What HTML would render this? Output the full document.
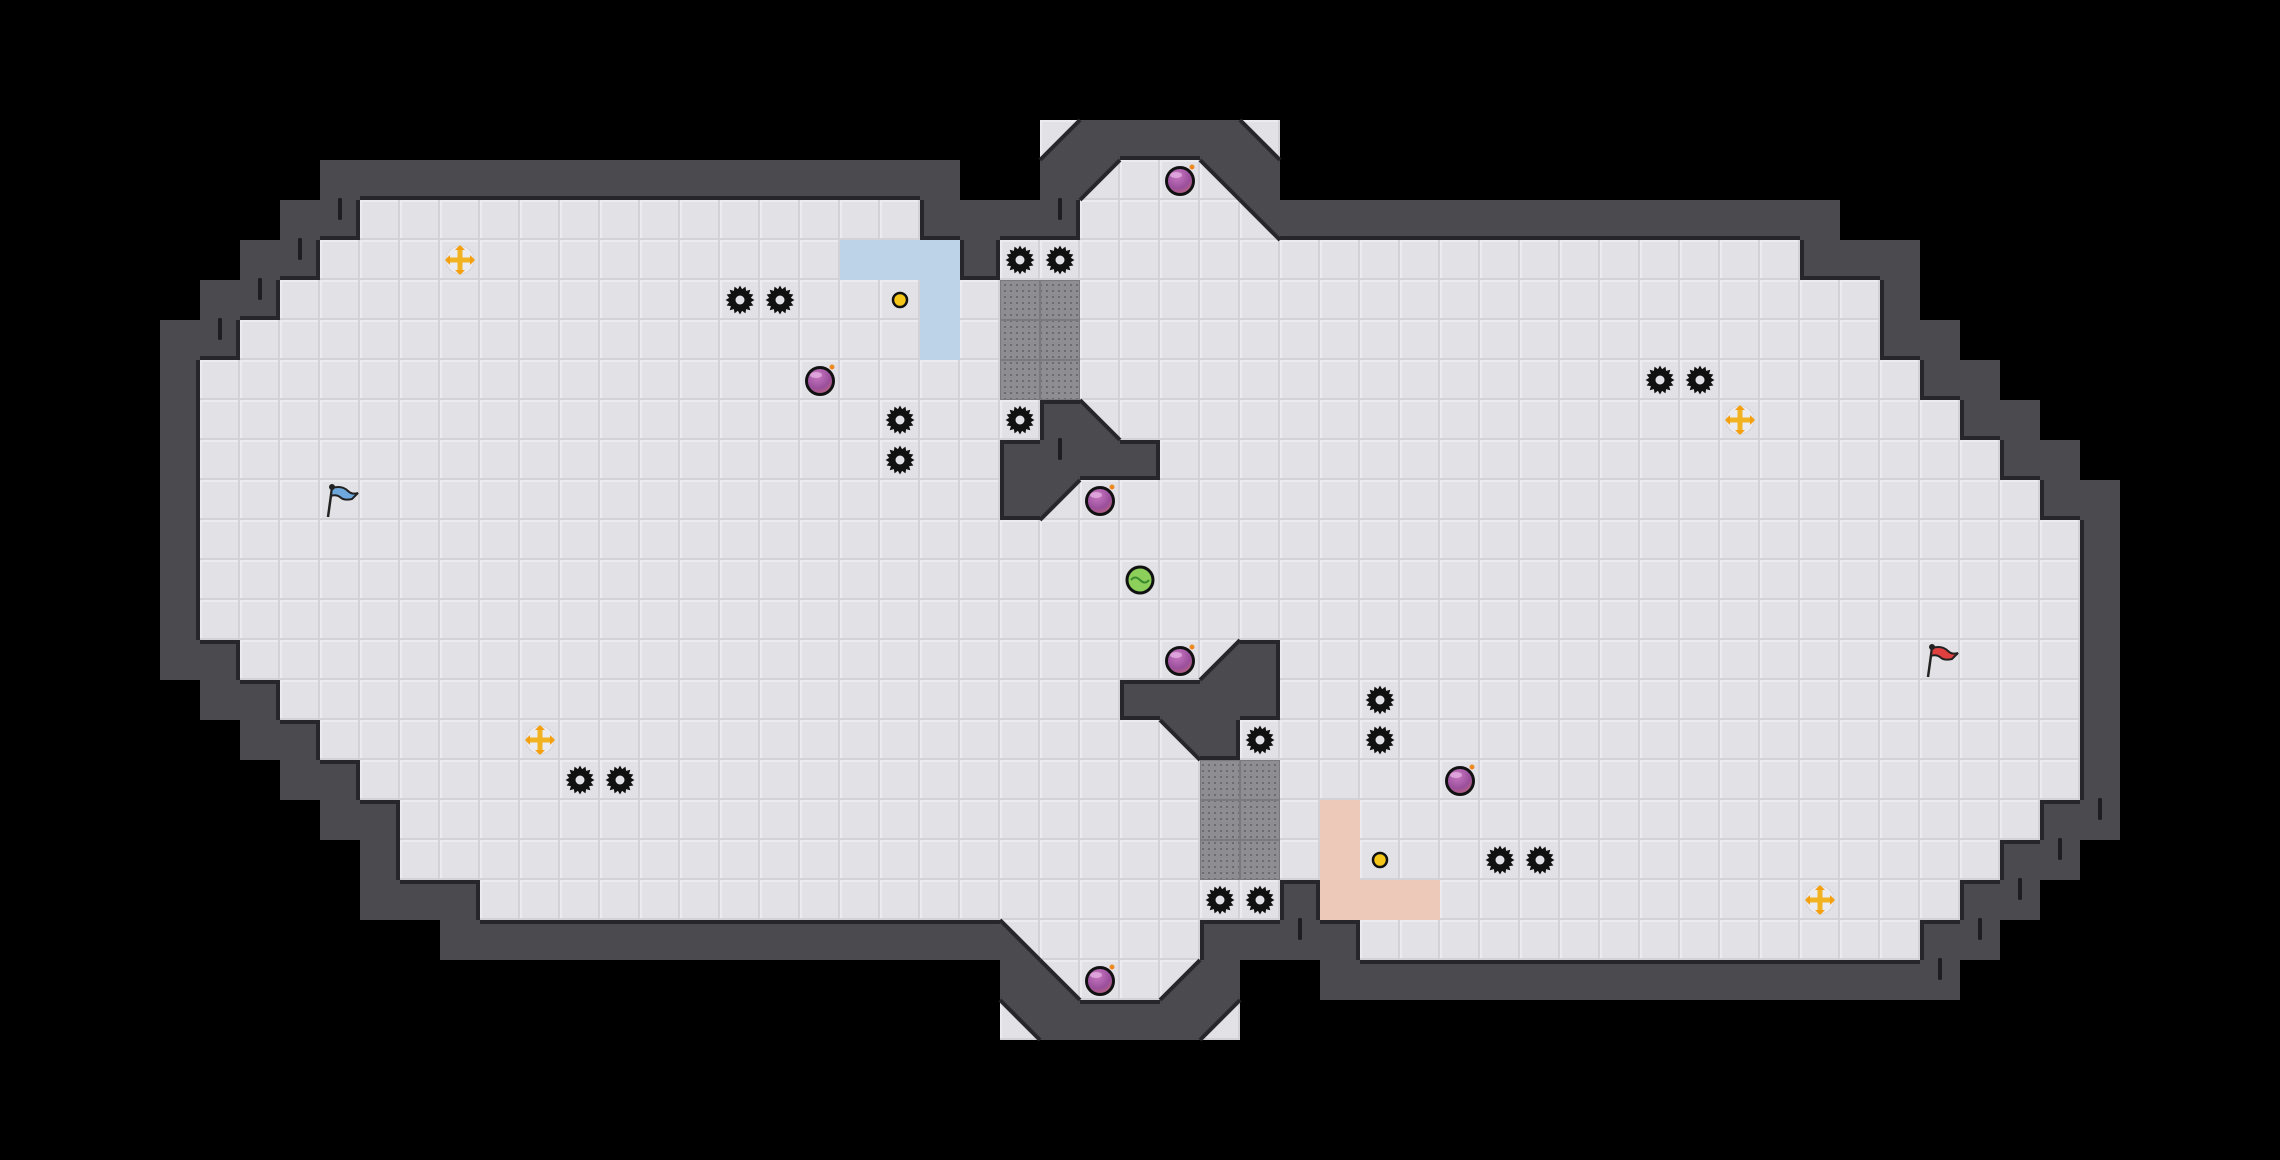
<!DOCTYPE html>
<html><head><meta charset="utf-8"><style>
html,body{margin:0;padding:0;background:#000;width:2280px;height:1160px;overflow:hidden}
svg{display:block}
</style></head><body>
<svg id="s" width="2280" height="1160" viewBox="0 0 2280 1160" xmlns="http://www.w3.org/2000/svg">
<defs>
<pattern id="fl" width="40" height="40" patternUnits="userSpaceOnUse">
<rect width="40" height="40" fill="#e2e2e6"/>
<rect x="0" y="0" width="40" height="2" fill="#ececef"/>
<rect x="0" y="0" width="2" height="40" fill="#ececef"/>
<rect x="38" y="0" width="2" height="40" fill="#d2d2d7"/>
<rect x="0" y="38" width="40" height="2" fill="#d2d2d7"/>
</pattern>
<pattern id="mesh" width="6" height="6" patternUnits="userSpaceOnUse">
<rect width="6" height="6" fill="#8e8e92"/>
<rect x="2" y="2" width="2" height="2" fill="#6c6c70"/>
</pattern>
<radialGradient id="bomb" cx="0.4" cy="0.3" r="0.8">
<stop offset="0" stop-color="#c878c0"/><stop offset="0.6" stop-color="#9a4f9c"/><stop offset="1" stop-color="#c46a70"/>
</radialGradient>
</defs>
<rect width="2280" height="1160" fill="#000"/>
<g id="g"></g>
</svg>
<script>
(function(){
var NS="http://www.w3.org/2000/svg",g=document.getElementById('g'),S=40;
function el(t,a){var e=document.createElementNS(NS,t);for(var k in a)e.setAttribute(k,a[k]);g.appendChild(e);return e;}
var floor={};
function add(r,a,b){for(var c=a;c<=b;c++)floor[c+','+r]=1;}
function del(r,a,b){for(var c=a;c<=b;c++)delete floor[c+','+r];}
add(4,28,29);add(5,9,22);add(5,27,30);add(6,8,23);add(6,25,44);
add(7,7,46);add(8,6,46);add(9,5,47);add(10,5,48);add(11,5,49);add(12,5,50);
add(13,5,51);add(14,5,51);add(15,5,51);add(16,6,51);add(17,7,51);add(18,8,51);
add(19,9,51);add(20,10,50);add(21,10,49);add(22,12,31);add(22,33,48);
add(23,26,29);add(23,34,47);add(24,27,28);
del(10,26,27);del(11,25,28);del(12,25,26);del(16,30,31);del(17,28,31);del(18,29,30);
var tris=[[26,3,'br'],[31,3,'bl'],[27,4,'tl'],[30,4,'tr'],[31,5,'tr'],[27,10,'bl'],[26,12,'tl'],
[30,16,'br'],[29,18,'tr'],[25,23,'bl'],[26,24,'bl'],[29,24,'br'],[25,25,'tr'],[30,25,'tl']];
var tri={};tris.forEach(function(t){tri[t[0]+','+t[1]]=t[2];});
var walls=[];
for(var r=0;r<29;r++)for(var c=0;c<57;c++){
 var k=c+','+r;if(floor[k]||tri[k])continue;
 var n=false;for(var dr=-1;dr<=1;dr++)for(var dc=-1;dc<=1;dc++){if(floor[(c+dc)+','+(r+dr)])n=true;}
 if(n)walls.push([c,r]);
}
walls.forEach(function(w){el('rect',{x:w[0]*S,y:w[1]*S,width:S,height:S,fill:'#4a4a4f'});});
// dark edges on wall sides touching floor
walls.forEach(function(w){var c=w[0],r=w[1],x=c*S,y=r*S,col='#27272b';
 if(floor[c+','+(r-1)])el('rect',{x:x,y:y,width:S,height:4,fill:col});
 if(floor[c+','+(r+1)])el('rect',{x:x,y:y+S-4,width:S,height:4,fill:col});
 if(floor[(c-1)+','+r])el('rect',{x:x,y:y,width:4,height:S,fill:col});
 if(floor[(c+1)+','+r])el('rect',{x:x+S-4,y:y,width:4,height:S,fill:col});
});
// floor
var blue={'21,6':1,'22,6':1,'23,6':1,'23,7':1,'23,8':1};
var peach={'33,20':1,'33,21':1,'33,22':1,'34,22':1,'35,22':1};
var mesh={};[[25,7],[25,8],[25,9],[26,7],[26,8],[26,9],[30,19],[30,20],[30,21],[31,19],[31,20],[31,21]].forEach(function(m){mesh[m[0]+','+m[1]]=1;});
for(var k in floor){var p=k.split(','),x=+p[0]*S,y=+p[1]*S;
 if(mesh[k]){el('rect',{x:x,y:y,width:S,height:S,fill:'url(#mesh)'});el('rect',{x:x+0.5,y:y+0.5,width:S-1,height:S-1,fill:'none',stroke:'#7a7a7e','stroke-width':1});}
 else{el('rect',{x:x,y:y,width:S,height:S,fill:'url(#fl)'});
  if(blue[k])el('rect',{x:x,y:y,width:S,height:S,fill:'#bcd3e8'});
  if(peach[k])el('rect',{x:x,y:y,width:S,height:S,fill:'#ecc9b8'});}
}
tris.forEach(function(t){var x=t[0]*S,y=t[1]*S,pts,ln;
 el('rect',{x:x,y:y,width:S,height:S,fill:'url(#fl)'});
 if(t[2]=='tl'){pts=[x,y,x+S,y,x,y+S];ln=[x+S,y,x,y+S];}
 if(t[2]=='tr'){pts=[x,y,x+S,y,x+S,y+S];ln=[x,y,x+S,y+S];}
 if(t[2]=='bl'){pts=[x,y,x,y+S,x+S,y+S];ln=[x,y,x+S,y+S];}
 if(t[2]=='br'){pts=[x+S,y,x+S,y+S,x,y+S];ln=[x+S,y,x,y+S];}
 el('polygon',{points:pts.join(' '),fill:'#4a4a4f'});
 el('line',{x1:ln[0],y1:ln[1],x2:ln[2],y2:ln[3],stroke:'#27272b','stroke-width':4});
});
// slot marks
[[8,5],[7,6],[6,7],[5,8],[26,5],[26,11],[32,23],[48,24],[49,23],[50,22],[51,21],[52,20]].forEach(function(m){
 el('rect',{x:m[0]*S+18,y:m[1]*S-2,width:4,height:22,rx:1.5,fill:'#1e1e22'});});
function cx(c){return c*S+20;}
// saws
function saw(c,r){var X=cx(c),Y=cx(r),p=[];for(var i=0;i<32;i++){var a=i*Math.PI/16,rr=i%2?11:14.5;p.push((X+rr*Math.cos(a)).toFixed(1)+','+(Y+rr*Math.sin(a)).toFixed(1));}
 el('polygon',{points:p.join(' '),fill:'#111'});el('circle',{cx:X,cy:Y,r:4.5,fill:'#e2e2e6'});}
[[25,6],[26,6],[18,7],[19,7],[22,10],[22,11],[25,10],[41,9],[42,9],[31,18],[34,17],[34,18],[14,19],[15,19],[37,21],[38,21],[30,22],[31,22]].forEach(function(s){saw(s[0],s[1]);});
// bombs
[[29,4],[20,9],[27,12],[29,16],[36,19],[27,24]].forEach(function(b){var X=cx(b[0]),Y=cx(b[1])+1;
 el('circle',{cx:X,cy:Y,r:13.5,fill:'url(#bomb)',stroke:'#111','stroke-width':3});
 el('ellipse',{cx:X-4,cy:Y-6,rx:6,ry:3,fill:'#e8b8e8',opacity:0.7});
 el('circle',{cx:X+12,cy:Y-14,r:2.5,fill:'#f08a20'});});
// yellow crosses
[[11,6],[43,10],[13,18],[45,22]].forEach(function(b){var X=cx(b[0]),Y=cx(b[1]);
 el('circle',{cx:X,cy:Y,r:14,fill:'#ececf0',stroke:'#d6d6da','stroke-width':1});
 el('rect',{x:X-13,y:Y-2.5,width:26,height:5,fill:'#f2b320'});
 el('rect',{x:X-2.5,y:Y-13,width:5,height:26,fill:'#f2b320'});
 el('polygon',{points:(X-15)+','+Y+' '+(X-10)+','+(Y-5)+' '+(X-10)+','+(Y+5),fill:'#f2a010'});
 el('polygon',{points:(X+15)+','+Y+' '+(X+10)+','+(Y-5)+' '+(X+10)+','+(Y+5),fill:'#f2a010'});
 el('polygon',{points:X+','+(Y-15)+' '+(X-5)+','+(Y-10)+' '+(X+5)+','+(Y-10),fill:'#f2a010'});
 el('polygon',{points:X+','+(Y+15)+' '+(X-5)+','+(Y+10)+' '+(X+5)+','+(Y+10),fill:'#f2a010'});});
// coins
[[22,7],[34,21]].forEach(function(b){el('circle',{cx:cx(b[0]),cy:cx(b[1]),r:7,fill:'#f5c518',stroke:'#111','stroke-width':2.5});});
// green ball
el('circle',{cx:cx(28),cy:cx(14),r:13,fill:'#8ccf5a',stroke:'#111','stroke-width':3});
el('path',{d:'M'+(cx(28)-9)+' '+cx(14)+' q4 -5 9 0 t9 0',fill:'none',stroke:'#3a8a30','stroke-width':2});
// flags
function flag(c,r,col){var X=cx(c)-8,Y=cx(r);
 el('line',{x1:X,y1:Y-12,x2:X-4,y2:Y+17,stroke:'#222','stroke-width':2.5});
 el('path',{d:'M'+X+' '+(Y-12)+' q10 -3 16 3 q4 4 10 2 l-6 6 q-8 2 -12 -2 q-4 -3 -9 -1 z',fill:col,stroke:'#222','stroke-width':2});
 el('circle',{cx:X,cy:Y-13,r:3,fill:'#222'});}
flag(8,12,'#6fa8dc');flag(48,16,'#e04040');
})();
</script>
</body></html>
